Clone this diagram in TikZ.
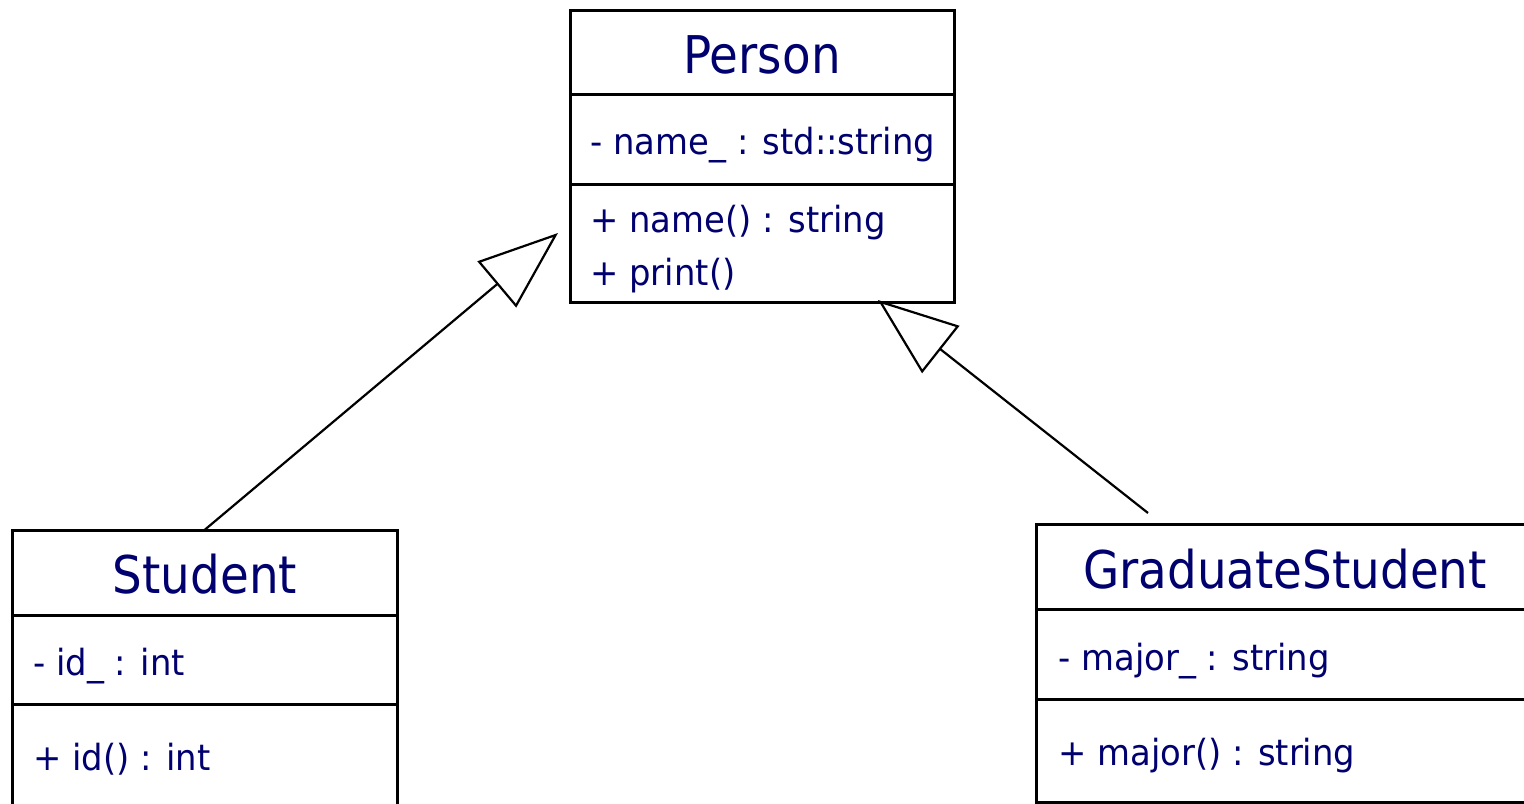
\documentclass[tikz,border=0pt]{standalone}
\usepackage{fontspec}
\setmainfont{DejaVu Sans}[FakeStretch=0.9]
\newfontfamily\memberfont{DejaVu Sans}[FakeStretch=0.94]
\usetikzlibrary{arrows.meta}
\definecolor{umltext}{RGB}{0,0,110}
\tikzset{
  classbox/.style={draw, line width=1.5pt, inner sep=0pt, outer sep=0pt, anchor=north west},
  divider/.style={line width=1.5pt},
  classname/.style={text=umltext, font=\fontsize{26pt}{30pt}\selectfont, anchor=base, inner sep=0pt},
  member/.style={text=umltext, font=\memberfont\fontsize{18pt}{21pt}\selectfont, anchor=base west, inner sep=0pt},
  generalization/.style={line width=1.1pt, -{Triangle[open, length=40pt, width=30pt]}},
}
\begin{document}
\begin{tikzpicture}[x=0.5pt, y=-0.5pt]
  \useasboundingbox (0,0) rectangle (1524,803);
  \clip (0,0) rectangle (1524,803);

  % Person
  \node[classbox, minimum width=192pt, minimum height=146pt] (person) at (570,10) {};
  \draw[divider] (570,94) -- (954,94);
  \draw[divider] (570,184) -- (954,184);
  \node[classname] (personName) at (762,73) {Person};
  \node[member] (personAttr) at (590,154) {- name\_ : std::string};
  \node[member] (personOpA) at (590,232) {+ name() : string};
  \node[member] (personOpB) at (590,285) {+ print()};

  % Student
  \node[classbox, minimum width=192.5pt, minimum height=160pt] (student) at (12,530) {};
  \draw[divider] (12,615) -- (397,615);
  \draw[divider] (12,704) -- (397,704);
  \node[classname] (studentName) at (205,593) {Student};
  \node[member] (studentAttr) at (33,675) {- id\_ : int};
  \node[member] (studentOp) at (33,770) {+ id() : int};

  % GraduateStudent
  \node[classbox, minimum width=260pt, minimum height=139pt] (grad) at (1036,524) {};
  \draw[divider] (1036,609) -- (1560,609);
  \draw[divider] (1036,699) -- (1560,699);
  \node[classname] (gradName) at (1285,588) {GraduateStudent};
  \node[member] (gradAttr) at (1058,670) {- major\_ : string};
  \node[member] (gradOp) at (1058,765) {+ major() : string};

  % Generalization connectors
  \coordinate (studentTip) at (558,233);
  \coordinate (gradStart) at (1148,513);
  \coordinate (gradTip) at (878,300);
  \draw[generalization] (student.north) -- (studentTip);
  \draw[generalization] (gradStart) -- (gradTip);
\end{tikzpicture}
\end{document}
